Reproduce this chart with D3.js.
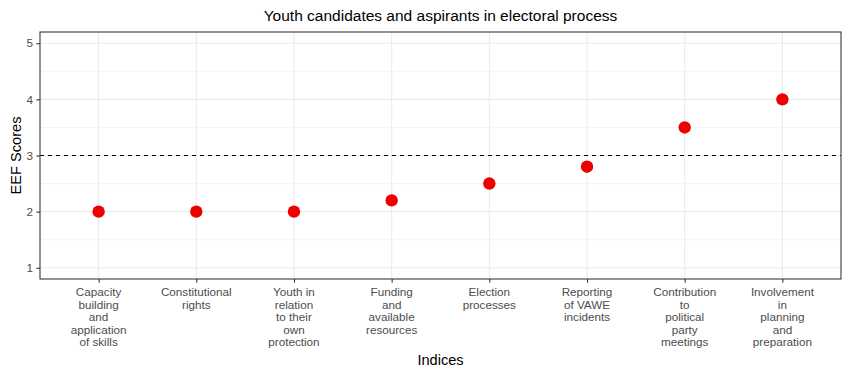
<!DOCTYPE html>
<html><head><meta charset="utf-8">
<script src="https://cdn.jsdelivr.net/npm/d3@7"></script>
<style>body{margin:0;background:#fff}text{font-family:"Liberation Sans",Arial,sans-serif}</style>
</head><body><svg id="c" width="849" height="373"></svg>
<script>
const categories = [
  ["Capacity","building","and","application","of skills"],
  ["Constitutional","rights"],
  ["Youth in","relation","to their","own","protection"],
  ["Funding","and","available","resources"],
  ["Election","processes"],
  ["Reporting","of VAWE","incidents"],
  ["Contribution","to","political","party","meetings"],
  ["Involvement","in","planning","and","preparation"]
];
const scores = [2, 2, 2, 2.2, 2.5, 2.8, 3.5, 4];
const yTicks = [1, 2, 3, 4, 5];
const yMinor = [1.5, 2.5, 3.5, 4.5];
const threshold = 3;
const title = "Youth candidates and aspirants in electoral process";
const xTitle = "Indices", yTitle = "EEF Scores";

const svg = d3.select("#c");
const L = 40, R = 841, T = 32, B = 279;
const keys = categories.map((c,i)=>i);
const x = d3.scalePoint().domain(keys).range([L, R]).padding(0.6);
const y = d3.scaleLinear().domain([0.8, 5.2]).range([B, T]);

const grid = svg.append("g");
grid.selectAll(".mn").data(yMinor).join("line")
  .attr("x1",L).attr("x2",R).attr("y1",d=>y(d)).attr("y2",d=>y(d))
  .attr("stroke","#EBEBEB").attr("stroke-width",0.55);
grid.selectAll(".mj").data(yTicks).join("line")
  .attr("x1",L).attr("x2",R).attr("y1",d=>y(d)).attr("y2",d=>y(d))
  .attr("stroke","#EBEBEB").attr("stroke-width",1.07);
grid.selectAll(".vx").data(keys).join("line")
  .attr("x1",d=>x(d)).attr("x2",d=>x(d)).attr("y1",T).attr("y2",B)
  .attr("stroke","#EBEBEB").attr("stroke-width",1.07);

svg.append("line").attr("x1",L).attr("x2",R).attr("y1",y(threshold)).attr("y2",y(threshold))
  .attr("stroke","#000").attr("stroke-width",1.1).attr("stroke-dasharray","4,4");

svg.selectAll(".pt").data(scores).join("circle")
  .attr("cx",(d,i)=>x(i)).attr("cy",d=>y(d)).attr("r",6.2).attr("fill","#EE0000");

svg.append("rect").attr("x",L).attr("y",T).attr("width",R-L).attr("height",B-T)
  .attr("fill","none").attr("stroke","#333333").attr("stroke-width",1.07);

// y axis
const ya = svg.append("g").attr("transform",`translate(${L},0)`)
  .call(d3.axisLeft(y).tickValues(yTicks).tickSize(3.7).tickFormat(d3.format("d")));
ya.select(".domain").remove();
ya.selectAll("line").attr("stroke","#333333").attr("stroke-width",1.07);
ya.selectAll("text").attr("fill","#4D4D4D").attr("font-size","11.7px").attr("x",-7)
  .attr("font-family","Liberation Sans, Arial, sans-serif");

// x axis
const xa = svg.append("g").attr("transform",`translate(0,${B})`)
  .call(d3.axisBottom(x).tickSize(3.7).tickFormat(""));
xa.select(".domain").remove();
xa.selectAll("line").attr("stroke","#333333").attr("stroke-width",1.07);
const lab = svg.append("g");
categories.forEach((lines,i)=>{
  const t = lab.append("text").attr("text-anchor","middle").attr("fill","#4D4D4D")
    .attr("font-size","11.7px");
  lines.forEach((s,j)=>t.append("tspan").attr("x",x(i)).attr("y",296+j*12.6).text(s));
});

svg.append("text").attr("x",(L+R)/2).attr("y",365).attr("text-anchor","middle")
  .attr("font-size","14.6px").attr("fill","#000").text(xTitle);
svg.append("text").attr("transform",`translate(21,${(T+B)/2}) rotate(-90)`)
  .attr("text-anchor","middle").attr("font-size","14.6px").attr("fill","#000").text(yTitle);
svg.append("text").attr("x",(L+R)/2).attr("y",21).attr("text-anchor","middle")
  .attr("font-size","15.5px").attr("fill","#000").text(title);
</script></body></html>
